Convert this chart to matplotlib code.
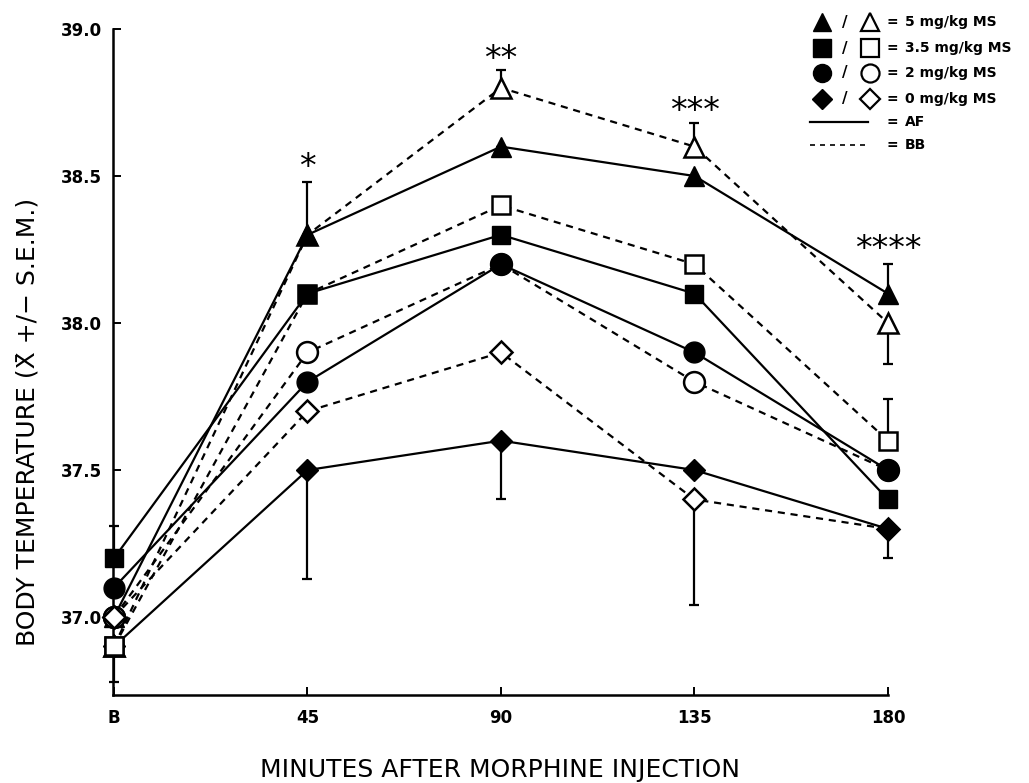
import matplotlib
matplotlib.use("Agg")
import matplotlib.pyplot as plt
from matplotlib.lines import Line2D

# ---------------- data ----------------
times = [0, 45, 90, 135, 180]
xticklabels = ["B", "45", "90", "135", "180"]
yticks = [37.0, 37.5, 38.0, 38.5, 39.0]

af_5 = [37.0, 38.3, 38.6, 38.5, 38.1]
bb_5 = [36.9, 38.3, 38.8, 38.6, 38.0]
af_35 = [37.2, 38.1, 38.3, 38.1, 37.4]
bb_35 = [36.9, 38.1, 38.4, 38.2, 37.6]
af_2 = [37.1, 37.8, 38.2, 37.9, 37.5]
bb_2 = [37.0, 37.9, 38.2, 37.8, 37.5]
af_0 = [36.9, 37.5, 37.6, 37.5, 37.3]
bb_0 = [37.0, 37.7, 37.9, 37.4, 37.3]

# one-sided SEM bars (lower, upper)
af_5_err = ([0, 0, 0, 0, 0], [0, 0.18, 0, 0, 0.10])
bb_5_err = ([0.12, 0, 0, 0, 0.14], [0, 0, 0.06, 0.08, 0])
af_35_err = ([0, 0, 0, 0, 0], [0.11, 0, 0, 0, 0])
bb_35_err = ([0, 0, 0, 0, 0], [0, 0, 0, 0, 0.14])
af_0_err = ([0, 0.37, 0.20, 0, 0.10], [0, 0, 0, 0, 0])
bb_0_err = ([0, 0, 0, 0.36, 0], [0, 0, 0, 0, 0])

star_labels = ["", "*", "**", "***", "****"]
star_y = [None, 38.53, 38.895, 38.72, 38.25]

legend_labels = ["5 mg/kg MS", "3.5 mg/kg MS", "2 mg/kg MS", "0 mg/kg MS"]
legend_markers = ["^", "s", "o", "D"]

# ---------------- figure ----------------
W, H = 1029, 783
fig = plt.figure(figsize=(W / 100, H / 100), dpi=100)
ax = fig.add_axes([113 / W, 1 - 695 / H, (888 - 113) / W, (695 - 29) / H])

ax.set_xlim(-0.23, 180)
ax.set_ylim(36.735, 39.0)

LW = 1.6
dash = (0, (3.2, 2.6))

series = [
    (af_5, af_5_err, "^", True, 15),
    (bb_5, bb_5_err, "^", False, 15),
    (af_35, af_35_err, "s", True, 13),
    (bb_35, bb_35_err, "s", False, 13),
    (af_2, None, "o", True, 15),
    (bb_2, None, "o", False, 15),
    (af_0, af_0_err, "D", True, 11),
    (bb_0, bb_0_err, "D", False, 11),
]

for vals, err, mk, filled, ms in series:
    ls = "-" if filled else dash
    ax.plot(times, vals, color="black", lw=LW, linestyle=ls, zorder=2,
            clip_on=False)
    if err is not None:
        eb = ax.errorbar(times, vals, yerr=[err[0], err[1]], fmt="none",
                         ecolor="black", elinewidth=1.6, capsize=3.5,
                         capthick=1.6, zorder=3)
        for art in eb.lines[1] + eb.lines[2]:
            art.set_clip_on(False)

for vals, err, mk, filled, ms in series:
    if not filled:
        ax.plot(times, vals, linestyle="none", marker=mk, ms=ms,
                mfc="white", mec="black", mew=1.8, zorder=4, clip_on=False)
for vals, err, mk, filled, ms in series:
    if filled:
        ax.plot(times, vals, linestyle="none", marker=mk, ms=ms,
                mfc="black", mec="black", mew=1.0, zorder=5, clip_on=False)
# at baseline the open (BB) symbols sit on top of the filled ones
for vals, err, mk, filled, ms in series:
    if not filled:
        ax.plot(times[:1], vals[:1], linestyle="none", marker=mk, ms=ms,
                mfc="white", mec="black", mew=1.8, zorder=6, clip_on=False)

for t, s, y in zip(times, star_labels, star_y):
    if s:
        ax.text(t, y, s, ha="center", va="center", fontsize=24,
                family="DejaVu Sans", zorder=7)

# axes styling
for side in ["top", "right"]:
    ax.spines[side].set_visible(False)
for side in ["left", "bottom"]:
    ax.spines[side].set_linewidth(1.8)
ax.set_xticks(times)
ax.set_xticklabels(xticklabels)
ax.set_yticks(yticks)
ax.set_yticklabels([f"{v:.1f}" for v in yticks])
ax.tick_params(axis="both", direction="in", length=6, width=1.4)
ax.tick_params(axis="x", pad=10)
ax.tick_params(axis="y", pad=8)
for lab in ax.get_xticklabels() + ax.get_yticklabels():
    lab.set_fontweight("bold")
    lab.set_fontsize(12)

fig.text(500 / W, 1 - 770 / H, "MINUTES AFTER MORPHINE INJECTION",
         ha="center", va="center", fontsize=18)
fig.text(28 / W, 1 - 422 / H, "BODY TEMPERATURE (X\u0304 +/\u2212 S.E.M.)",
         ha="center", va="center", rotation=90, fontsize=18)

# ---------------- custom legend ----------------
def fx(px):
    return px / W


def fy(py):
    return 1 - py / H


rows = [22, 48, 73, 99]
for lab, mk, ry in zip(legend_labels, legend_markers, rows):
    ms = 13 if mk != "D" else 10
    fig.add_artist(Line2D([fx(822)], [fy(ry)], marker=mk, ms=ms,
                          mfc="black", mec="black", linestyle="none"))
    fig.text(fx(845), fy(ry), "/", ha="center", va="center",
             fontsize=11, fontweight="bold")
    fig.add_artist(Line2D([fx(870)], [fy(ry)], marker=mk, ms=ms,
                          mfc="white", mec="black", mew=1.6, linestyle="none"))
    fig.text(fx(892), fy(ry), "=", ha="center", va="center",
             fontsize=10, fontweight="bold")
    fig.text(fx(905), fy(ry), lab, ha="left", va="center",
             fontsize=10, fontweight="bold")

fig.add_artist(Line2D([fx(810), fx(868)], [fy(122), fy(122)],
                      color="black", lw=LW))
fig.text(fx(892), fy(122), "=", ha="center", va="center",
         fontsize=10, fontweight="bold")
fig.text(fx(905), fy(122), "AF", ha="left", va="center",
         fontsize=10, fontweight="bold")
fig.add_artist(Line2D([fx(810), fx(868)], [fy(145), fy(145)],
                      color="black", lw=1.2, linestyle=(0, (3, 3))))
fig.text(fx(892), fy(145), "=", ha="center", va="center",
         fontsize=10, fontweight="bold")
fig.text(fx(905), fy(145), "BB", ha="left", va="center",
         fontsize=10, fontweight="bold")

fig.savefig("out.png", dpi=100)
